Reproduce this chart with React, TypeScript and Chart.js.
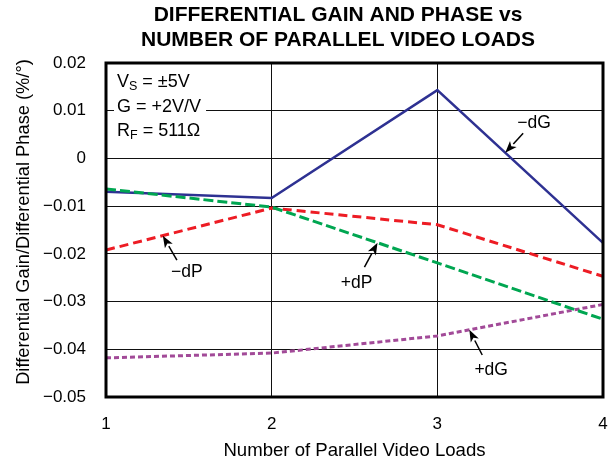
import React, { useEffect, useRef } from "react";
import { Chart, registerables } from "chart.js";

Chart.register(...registerables);

// ---- data ----
const loads = [1, 2, 3, 4];
const minusDG = [-0.007, -0.0083, 0.0143, -0.0177];
const plusDP = [-0.0064, -0.0102, -0.0219, -0.0337];
const minusDP = [-0.0192, -0.0104, -0.0139, -0.0247];
const plusDG = [-0.0418, -0.0408, -0.0372, -0.0306];

const seriesNames = ["−dG", "+dP", "−dP", "+dG"];
const xTickValues = [1, 2, 3, 4];
const yTickValues = [0.02, 0.01, 0, -0.01, -0.02, -0.03, -0.04, -0.05];

const titleLines = ["DIFFERENTIAL GAIN AND PHASE vs", "NUMBER OF PARALLEL VIDEO LOADS"];
const xTitle = "Number of Parallel Video Loads";
const yTitle = "Differential Gain/Differential Phase (%/°)";

// info lines: [main, subscript, rest]
const infoLines: [string, string, string][] = [
  ["V", "S", " = ±5V"],
  ["G = +2V/V", "", ""],
  ["R", "F", " = 511Ω"],
];

// callouts in data coordinates: label position, arrow tail, arrow tip x (tip y read from the series)
const calloutLabels = ["−dG", "−dP", "+dP", "+dG"];
const calloutSeries = [0, 2, 1, 3];
const calloutTextX = [3.584, 1.488, 2.512, 3.325];
const calloutTextY = [0.0074, -0.0238, -0.0261, -0.0444];
const calloutTailX = [3.518, 1.428, 2.56, 3.271];
const calloutTailY = [0.0053, -0.0213, -0.0228, -0.0412];
const calloutTipX = [3.41, 1.343, 2.639, 3.193];

const FONT = "'Liberation Sans', Arial, Helvetica, sans-serif";
const allSeries = [minusDG, plusDP, minusDP, plusDG];

function interp(series: number[], x: number) {
  const i = Math.min(Math.max(Math.floor(x) - 1, 0), loads.length - 2);
  const x0 = loads[i], x1 = loads[i + 1];
  const t = (x - x0) / (x1 - x0);
  return series[i] + (series[i + 1] - series[i]) * t;
}

const overlayPlugin = {
  id: "overlay",
  beforeDatasetsDraw(chart: any) {
    const { ctx, chartArea: a } = chart;
    ctx.save();
    const x0 = a.left + 11;
    const ys = [a.top + 19, a.top + 44, a.top + 68];
    infoLines.forEach((ln, i) => {
      ctx.font = `18px ${FONT}`;
      const w1 = ctx.measureText(ln[0]).width;
      ctx.font = `12.5px ${FONT}`;
      const w2 = ln[1] ? ctx.measureText(ln[1]).width : 0;
      ctx.font = `18px ${FONT}`;
      const w3 = ln[2] ? ctx.measureText(ln[2]).width : 0;
      const total = w1 + w2 + w3;
      ctx.fillStyle = "#fff";
      ctx.fillRect(x0 - 3, ys[i] - 10, total + 8, 20);
      ctx.fillStyle = "#000";
      ctx.textBaseline = "middle";
      ctx.textAlign = "left";
      ctx.fillText(ln[0], x0, ys[i]);
      if (ln[1]) {
        ctx.font = `12.5px ${FONT}`;
        ctx.fillText(ln[1], x0 + w1, ys[i] + 5);
        ctx.font = `18px ${FONT}`;
      }
      if (ln[2]) ctx.fillText(ln[2], x0 + w1 + w2, ys[i]);
    });
    ctx.restore();
  },
  afterDraw(chart: any) {
    const { ctx, chartArea: a, scales } = chart;
    const xs = scales.x, ys = scales.y;
    ctx.save();
    ctx.lineWidth = 3;
    ctx.strokeStyle = "#000";
    ctx.strokeRect(a.left, a.top, a.right - a.left, a.bottom - a.top);

    ctx.fillStyle = "#000";
    ctx.textAlign = "center";
    ctx.textBaseline = "middle";
    ctx.font = `bold 21px ${FONT}`;
    ctx.fillText(titleLines[0], 338, 15);
    ctx.fillText(titleLines[1], 338, 40);

    ctx.save();
    ctx.translate(24, 222);
    ctx.rotate(-Math.PI / 2);
    ctx.font = `18.3px ${FONT}`;
    ctx.fillText(yTitle, 0, 0);
    ctx.restore();

    calloutLabels.forEach((lab, i) => {
      const tx = xs.getPixelForValue(calloutTextX[i]);
      const ty = ys.getPixelForValue(calloutTextY[i]);
      const sx = xs.getPixelForValue(calloutTailX[i]);
      const sy = ys.getPixelForValue(calloutTailY[i]);
      const ex = xs.getPixelForValue(calloutTipX[i]);
      const ey = ys.getPixelForValue(interp(allSeries[calloutSeries[i]], calloutTipX[i]));
      ctx.font = `17.5px ${FONT}`;
      ctx.fillStyle = "#000";
      ctx.fillText(lab, tx, ty);
      const ang = Math.atan2(ey - sy, ex - sx);
      const hl = 12, hw = 4.5;
      const bx = ex - hl * Math.cos(ang), by = ey - hl * Math.sin(ang);
      ctx.strokeStyle = "#000";
      ctx.lineWidth = 1.5;
      ctx.beginPath();
      ctx.moveTo(sx, sy);
      ctx.lineTo(bx, by);
      ctx.stroke();
      ctx.beginPath();
      ctx.moveTo(ex, ey);
      ctx.lineTo(bx + hw * Math.sin(ang), by - hw * Math.cos(ang));
      ctx.lineTo(bx + 3 * Math.cos(ang), by + 3 * Math.sin(ang));
      ctx.lineTo(bx - hw * Math.sin(ang), by + hw * Math.cos(ang));
      ctx.closePath();
      ctx.fill();
    });
    ctx.restore();
  },
};

function fmtY(v: number) {
  const r = Math.round(v * 100) / 100;
  if (r === 0) return "0";
  return r.toFixed(2).replace("-", "−");
}

export default function App() {
  const ref = useRef<HTMLCanvasElement | null>(null);
  useEffect(() => {
    if (!ref.current) return;
    const mk = (data: number[]) => loads.map((x, i) => ({ x, y: data[i] }));
    const chart = new Chart(ref.current, {
      type: "line",
      data: {
        datasets: [
          { label: seriesNames[3], data: mk(plusDG), borderColor: "#a24a98", borderWidth: 3, borderDash: [5, 3], pointRadius: 0, order: 4 },
          { label: seriesNames[0], data: mk(minusDG), borderColor: "#2e3192", borderWidth: 2.5, pointRadius: 0, order: 3 },
          { label: seriesNames[2], data: mk(minusDP), borderColor: "#ed1c24", borderWidth: 3, borderDash: [9, 5], pointRadius: 0, order: 2 },
          { label: seriesNames[1], data: mk(plusDP), borderColor: "#00a651", borderWidth: 3, borderDash: [10, 4], pointRadius: 0, order: 1 },
        ],
      },
      options: {
        animation: false,
        responsive: true,
        maintainAspectRatio: false,
        layout: { autoPadding: false, padding: { top: 63, right: 12, left: 0, bottom: 0 } },
        plugins: { legend: { display: false }, tooltip: { enabled: false }, title: { display: false } },
        scales: {
          x: {
            type: "linear",
            min: 1,
            max: 4,
            afterFit: (s: any) => { s.height = 67; s.paddingLeft = 0; s.paddingRight = 0; },
            afterBuildTicks: (s: any) => { s.ticks = xTickValues.map((v) => ({ value: v })); },
            ticks: { color: "#000", font: { size: 17, family: FONT }, padding: 17, callback: (v: any) => String(v) },
            grid: { color: "#111", lineWidth: 1, drawTicks: false },
            border: { display: false },
            title: { display: true, text: xTitle, color: "#000", font: { size: 18.6, family: FONT }, padding: { top: 0, bottom: 2 } },
          },
          y: {
            type: "linear",
            min: -0.05,
            max: 0.02,
            afterFit: (s: any) => { s.width = 106; s.paddingTop = 0; s.paddingBottom = 0; },
            afterBuildTicks: (s: any) => { s.ticks = yTickValues.map((v) => ({ value: v })); },
            ticks: { color: "#000", font: { size: 17, family: FONT }, padding: 20, callback: (v: any) => fmtY(Number(v)) },
            grid: { color: "#111", lineWidth: 1, drawTicks: false },
            border: { display: false },
          },
        },
      },
      plugins: [overlayPlugin],
    });
    return () => chart.destroy();
  }, []);
  return (
    <div style={{ position: "absolute", left: 0, top: 0, width: 615, height: 464, background: "#fff" }}>
      <canvas ref={ref} />
    </div>
  );
}
